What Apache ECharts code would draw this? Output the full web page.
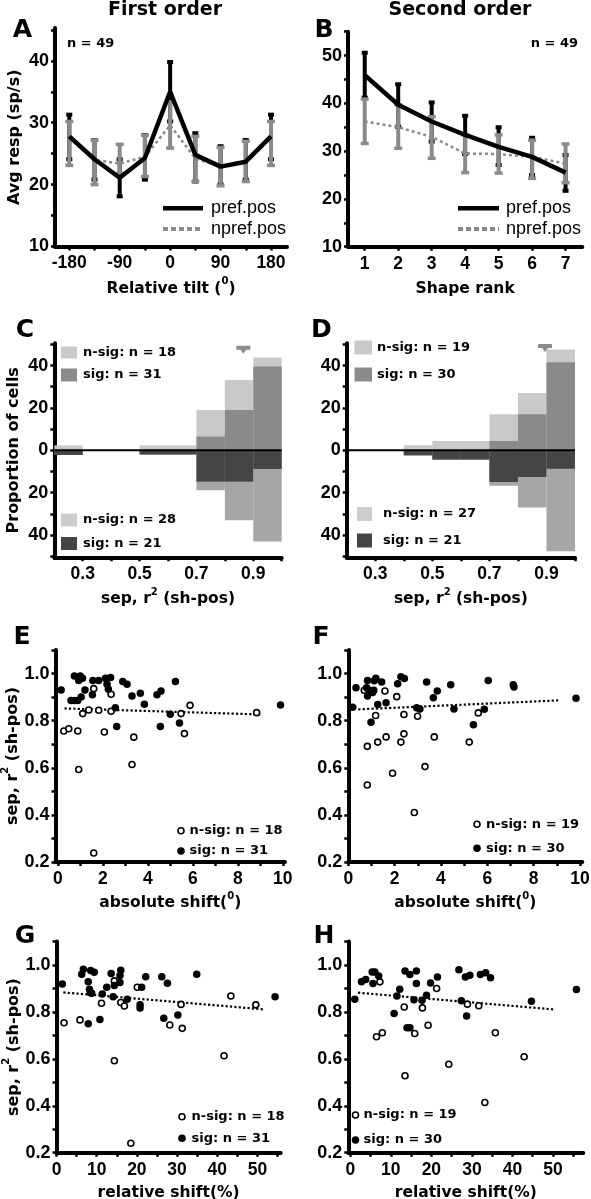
<!DOCTYPE html>
<html><head><meta charset="utf-8">
<script src="https://cdn.jsdelivr.net/npm/echarts@6/dist/echarts.min.js"></script>
<style>html,body{margin:0;padding:0;background:#fff}#c{width:591px;height:1199px}</style>
</head><body><div id="c"></div>
<script>
// ---------- Panel A: first order ----------
const tiltX = [-180, -135, -90, -45, 0, 45, 90, 135, 180];
const prefA = [27.8, 24.1, 21.1, 24.3, 35.0, 24.8, 22.9, 23.7, 27.8];
const prefALow = [24.1, 20.8, 18.1, 20.8, 30.2, 20.5, 20.0, 20.8, 24.1];
const prefAHigh = [31.3, 27.2, 24.1, 28.0, 39.8, 28.3, 26.2, 27.2, 31.3];
const nprefA = [27.5, 24.0, 23.4, 24.5, 29.6, 24.2, 22.9, 23.7, 27.5];
const nprefALow = [23.1, 20.0, 21.8, 21.3, 25.9, 20.5, 19.8, 20.5, 23.1];
const nprefAHigh = [30.2, 27.2, 26.5, 28.0, 33.4, 27.8, 26.0, 27.0, 30.2];
// ---------- Panel B: second order ----------
const rankX = [1, 2, 3, 4, 5, 6, 7];
const prefB = [45.9, 39.7, 36.2, 33.4, 30.9, 28.8, 25.5];
const prefBLow = [41.2, 35.1, 32.0, 29.4, 27.1, 25.0, 21.7];
const prefBHigh = [50.6, 44.0, 40.2, 37.4, 35.0, 32.8, 29.2];
const nprefB = [36.2, 35.0, 33.0, 29.5, 29.4, 28.8, 27.4];
const nprefBLow = [31.6, 30.6, 28.5, 25.5, 25.4, 24.3, 23.4];
const nprefBHigh = [40.9, 39.7, 37.2, 33.4, 33.4, 32.3, 31.5];
// ---------- Panels C, D: histograms (percent of cells, bins of 0.1) ----------
const binStarts = [0.2, 0.3, 0.4, 0.5, 0.6, 0.7, 0.8, 0.9];
const binWidth = 0.1;
const cUpSig = [0, 0, 0, 0, 0, 6.5, 19.0, 39.5];
const cUpNsig = [2.3, 0, 0, 2.3, 2.3, 12.5, 14.2, 4.3];
const cLoSig = [2.2, 0, 0, 2.0, 2.0, 14.8, 14.8, 8.8];
const cLoNsig = [0, 0, 0, 0, 0, 4.1, 18.2, 34.3];
const dUpSig = [0, 0, 0, 0, 0, 4.4, 17.0, 41.6];
const dUpNsig = [0, 0, 2.4, 4.4, 4.4, 12.6, 10.0, 6.0];
const dLoSig = [0, 0, 2.4, 4.4, 4.4, 15.0, 12.6, 8.7];
const dLoNsig = [0, 0, 0, 0, 0, 1.7, 14.4, 38.9];
const cMean = [[0.865, 47.5]];
const dMean = [[0.895, 48.3]];
// ---------- Panel E ----------
const eSig = [[0.15,0.93],[0.74,0.99],[0.59,0.886],[0.74,0.886],[0.89,0.886],[0.93,0.97],[1.0,0.99],[1.1,0.98],[1.04,0.90],[1.21,0.93],[1.56,0.97],[1.54,0.91],[1.82,0.97],[2.12,0.98],[2.19,0.955],[2.25,0.933],[2.35,0.983],[2.62,0.775],[2.89,0.966],[3.08,0.955],[2.56,0.855],[3.3,0.905],[3.67,0.916],[3.85,0.87],[4.41,0.91],[4.59,0.926],[4.56,0.775],[5.0,0.827],[5.23,0.966],[5.41,0.79],[9.9,0.867]];
const eNsig = [[0.27,0.756],[0.49,0.766],[0.89,0.756],[0.93,0.593],[1.11,0.83],[1.38,0.845],[1.6,0.936],[1.82,0.844],[1.6,0.238],[2.07,0.752],[2.37,0.912],[2.37,0.84],[3.38,0.73],[3.3,0.614],[5.48,0.83],[5.63,0.745],[5.88,0.865],[8.84,0.834]];
const eTrend = [[0.3,0.852],[9.1,0.826]];
// ---------- Panel F ----------
const fSig = [[0.19,0.857],[0.33,0.94],[0.79,0.94],[0.83,0.97],[0.83,0.905],[0.89,0.93],[0.98,0.793],[1.1,0.929],[1.12,0.969],[1.19,0.98],[1.27,0.869],[1.44,0.964],[1.63,0.876],[2.13,0.957],[2.27,0.986],[2.42,0.979],[2.95,0.855],[3.09,0.85],[3.38,0.964],[3.67,0.897],[3.84,0.926],[4.42,0.952],[4.56,0.85],[5.4,0.783],[5.87,0.848],[6.04,0.97],[7.12,0.952],[7.15,0.943],[9.83,0.895],[1.05,0.92]];
const fNsig = [[0.69,0.929],[0.82,0.691],[0.82,0.527],[1.18,0.822],[1.27,0.709],[1.58,0.926],[1.63,0.731],[1.91,0.577],[2.09,0.902],[2.27,0.709],[2.4,0.826],[2.4,0.744],[2.85,0.41],[2.99,0.819],[3.31,0.605],[3.71,0.731],[5.22,0.709],[5.61,0.833]];
const fTrend = [[0.43,0.848],[9.06,0.886]];
// ---------- Panel G ----------
const gSig = [[1.45,0.919],[6.27,0.96],[6.68,0.982],[7.9,0.929],[8.2,0.896],[8.75,0.879],[8.4,0.882],[8.5,0.976],[9.4,0.969],[7.9,0.749],[10.8,0.768],[11.4,0.876],[12.5,0.905],[13.6,0.964],[14.4,0.912],[14.1,0.865],[15.8,0.955],[16.0,0.977],[15.8,0.925],[17.6,0.854],[21.2,0.905],[20.8,0.83],[20.8,0.817],[22.2,0.95],[26.2,0.95],[26.7,0.773],[27.6,0.922],[30.2,0.787],[34.9,0.96],[54.4,0.865]];
const gNsig = [[1.87,0.754],[5.85,0.766],[11.2,0.837],[14.4,0.932],[14.4,0.592],[16.0,0.84],[16.9,0.825],[20.1,0.905],[18.5,0.24],[28.2,0.744],[31.0,0.832],[31.3,0.73],[41.7,0.613],[43.4,0.868],[49.6,0.83]];
const gTrend = [[1.7,0.883],[51.4,0.811]];
// ---------- Panel H ----------
const hSig = [[1.1,0.854],[2.75,0.928],[3.8,0.938],[5.4,0.97],[6.05,0.97],[5.6,0.921],[7.0,0.953],[10.8,0.793],[11.5,0.868],[12.2,0.896],[13.5,0.974],[14.0,0.732],[14.7,0.732],[14.7,0.959],[15.7,0.852],[16.3,0.974],[16.3,0.921],[17.7,0.85],[18.8,0.871],[19.8,0.923],[21.5,0.949],[26.8,0.98],[27.4,0.847],[28.4,0.949],[29.5,0.956],[28.7,0.782],[32.1,0.959],[33.4,0.967],[34.6,0.946],[44.7,0.845],[55.8,0.895]];
const hNsig = [[6.46,0.694],[7.9,0.711],[7.3,0.928],[13.3,0.821],[13.5,0.528],[17.8,0.817],[15.9,0.708],[19.2,0.743],[21.3,0.9],[24.3,0.577],[28.9,0.833],[31.7,0.826],[33.2,0.414],[35.8,0.711],[42.9,0.609]];
const hTrend = [[1.9,0.882],[50.5,0.81]];
// ---------- tick values ----------
const aXTicks = [-180,-135,-90,-45,0,45,90,135,180], aXLabels = [-180,-90,0,90,180];
const aYTicks = [10,15,20,25,30,35,40,45], aYLabels = [10,20,30,40];
const bXTicks = [1,2,3,4,5,6,7];
const bYTicks = [10,15,20,25,30,35,40,45,50,55], bYLabels = [10,20,30,40,50];
const hiXTicks = [0.3,0.4,0.5,0.6,0.7,0.8,0.9,1.0], hiXLabels = [0.3,0.5,0.7,0.9];
const hiYTicks = [-50,-40,-30,-20,-10,0,10,20,30,40,50], hiYLabels = [-40,-20,0,20,40];
const scYTicks = [0.2,0.3,0.4,0.5,0.6,0.7,0.8,0.9,1.0,1.1], scYLabels = [0.2,0.4,0.6,0.8,1.0];
const absXTicks = [0,1,2,3,4,5,6,7,8,9,10], absXLabels = [0,2,4,6,8,10];
const relXTicks = [0,5,10,15,20,25,30,35,40,45,50,55], relXLabels = [0,10,20,30,40,50];

const TICKF = 'Liberation Sans, Arial, sans-serif';
const TXTF = 'DejaVu Sans, sans-serif';
const GRAY = '#8a8a8a';
const RICH = {
  a: {fontFamily: TXTF, fontWeight: 'bold', fontSize: 15.5, color: '#000', lineHeight: 20, verticalAlign: 'bottom'},
  s: {fontFamily: TXTF, fontWeight: 'bold', fontSize: 10, color: '#000', lineHeight: 12, verticalAlign: 'top'}
};

function xAx(gi, min, max, ticks, labels, name, gap, fmt) {
  return {type: 'value', gridIndex: gi, min, max,
    axisLine: {show: true, onZero: false, lineStyle: {color: '#000', width: 4}},
    axisTick: {show: true, customValues: ticks, length: 4, lineStyle: {color: '#000', width: 2.5}},
    axisLabel: {customValues: labels, formatter: fmt, color: '#000', fontFamily: TICKF, fontWeight: 'bold', fontSize: 17.5, margin: 8},
    splitLine: {show: false}, name, nameLocation: 'middle', nameGap: gap, nameTextStyle: {rich: RICH}};
}
function yAx(gi, min, max, ticks, labels, name, gap, fmt) {
  return {type: 'value', gridIndex: gi, min, max,
    axisLine: {show: true, onZero: false, lineStyle: {color: '#000', width: 4}},
    axisTick: {show: true, customValues: ticks, length: 4, lineStyle: {color: '#000', width: 2.5}},
    axisLabel: {customValues: labels, formatter: fmt, color: '#000', fontFamily: TICKF, fontWeight: 'bold', fontSize: 18, margin: 6},
    splitLine: {show: false}, name, nameLocation: 'middle', nameGap: gap, nameRotate: 90,
    nameTextStyle: {rich: {a: Object.assign({}, RICH.a, {fontSize: 16}), s: RICH.s}}};
}
const f1 = v => Number(v).toFixed(1);
const fAbs = v => String(Math.abs(v));

function errRender(color, capW, capH, lw) {
  return function (params, api) {
    const x = api.value(0), lo = api.value(1), hi = api.value(2);
    const a = api.coord([x, lo]), b = api.coord([x, hi]);
    return {type: 'group', children: [
      {type: 'line', shape: {x1: a[0], y1: a[1], x2: b[0], y2: b[1]}, style: {stroke: color, lineWidth: lw}},
      {type: 'rect', shape: {x: a[0] - capW / 2, y: a[1] - capH / 2, width: capW, height: capH}, style: {fill: color}},
      {type: 'rect', shape: {x: b[0] - capW / 2, y: b[1] - capH / 2, width: capW, height: capH}, style: {fill: color}}
    ]};
  };
}
function histRender(color) {
  return function (params, api) {
    const a = api.coord([api.value(0), api.value(2)]), b = api.coord([api.value(1), api.value(3)]);
    return {type: 'rect', shape: {x: Math.min(a[0], b[0]), y: Math.min(a[1], b[1]), width: Math.abs(b[0] - a[0]), height: Math.abs(b[1] - a[1])}, style: {fill: color}};
  };
}
function errData(xs, lo, hi) { return xs.map((x, i) => [x, lo[i], hi[i]]); }
function lineData(xs, ys) { return xs.map((x, i) => [x, ys[i]]); }
function histData(upper, sig, nsig) {
  const tot = [], s = [];
  binStarts.forEach((b, i) => {
    const sgn = upper ? 1 : -1;
    if (sig[i] + nsig[i] > 0) tot.push([b, b + binWidth, 0, sgn * (sig[i] + nsig[i])]);
    if (sig[i] > 0) s.push([b, b + binWidth, 0, sgn * sig[i]]);
  });
  return {tot, s};
}

const series = [];
function addErrPanel(gi, xs, pref, pLo, pHi, npref, nLo, nHi) {
  series.push({type: 'custom', xAxisIndex: gi, yAxisIndex: gi, renderItem: errRender('#000', 6, 4, 4), data: errData(xs, pLo, pHi), encode: {x: 0, y: [1, 2]}, z: 2});
  series.push({type: 'custom', xAxisIndex: gi, yAxisIndex: gi, renderItem: errRender(GRAY, 8, 3.5, 4), data: errData(xs, nLo, nHi), encode: {x: 0, y: [1, 2]}, z: 3});
  series.push({type: 'line', xAxisIndex: gi, yAxisIndex: gi, data: lineData(xs, npref), symbol: 'none', lineStyle: {color: GRAY, width: 2.5, type: [3, 3]}, z: 4});
  series.push({type: 'line', xAxisIndex: gi, yAxisIndex: gi, data: lineData(xs, pref), symbol: 'none', lineStyle: {color: '#000', width: 4.5}, z: 5});
}
addErrPanel(0, tiltX, prefA, prefALow, prefAHigh, nprefA, nprefALow, nprefAHigh);
addErrPanel(1, rankX, prefB, prefBLow, prefBHigh, nprefB, nprefBLow, nprefBHigh);

const ARROW = 'path://M0,0 L12,0 L12,3.5 L8.5,3.5 L6,7 L3.5,3.5 L0,3.5 Z';
function addHist(gi, upS, upN, loS, loN, mean) {
  const up = histData(true, upS, upN), lo = histData(false, loS, loN);
  series.push({type: 'custom', xAxisIndex: gi, yAxisIndex: gi, renderItem: histRender('#c9c9c9'), data: up.tot, encode: {x: [0, 1], y: [2, 3]}, z: 2});
  series.push({type: 'custom', xAxisIndex: gi, yAxisIndex: gi, renderItem: histRender('#8a8a8a'), data: up.s, encode: {x: [0, 1], y: [2, 3]}, z: 3});
  series.push({type: 'custom', xAxisIndex: gi, yAxisIndex: gi, renderItem: histRender('#a6a6a6'), data: lo.tot, encode: {x: [0, 1], y: [2, 3]}, z: 2});
  series.push({type: 'custom', xAxisIndex: gi, yAxisIndex: gi, renderItem: histRender('#454545'), data: lo.s, encode: {x: [0, 1], y: [2, 3]}, z: 3});
  series.push({type: 'line', xAxisIndex: gi, yAxisIndex: gi, data: [[0.2, 0], [1.0, 0]], symbol: 'none', lineStyle: {color: '#000', width: 2}, z: 6});
  series.push({type: 'scatter', xAxisIndex: gi, yAxisIndex: gi, data: mean, symbol: ARROW, symbolSize: [14, 8], itemStyle: {color: '#8c8c8c', opacity: 1}, z: 6});
}
addHist(2, cUpSig, cUpNsig, cLoSig, cLoNsig, cMean);
addHist(3, dUpSig, dUpNsig, dLoSig, dLoNsig, dMean);

function addScatter(gi, sig, nsig, trend) {
  series.push({type: 'line', xAxisIndex: gi, yAxisIndex: gi, data: trend, symbol: 'none', lineStyle: {color: '#000', width: 2.2, type: [2.2, 2.2]}, z: 2});
  series.push({type: 'scatter', xAxisIndex: gi, yAxisIndex: gi, data: nsig, symbol: 'circle', symbolSize: 6, itemStyle: {color: '#fff', borderColor: '#000', borderWidth: 1.6, opacity: 1}, z: 3});
  series.push({type: 'scatter', xAxisIndex: gi, yAxisIndex: gi, data: sig, symbol: 'circle', symbolSize: 7.5, itemStyle: {color: '#000', opacity: 1}, z: 4});
}
addScatter(4, eSig, eNsig, eTrend);
addScatter(5, fSig, fNsig, fTrend);
addScatter(6, gSig, gNsig, gTrend);
addScatter(7, hSig, hNsig, hTrend);

const SEP = '{a|sep, r}{s|2}{a| (sh-pos)}';
const grids = [
  {left: 55, top: 28, width: 232, height: 218.5},
  {left: 348, top: 31.7, width: 234.3, height: 215},
  {left: 54.3, top: 343.3, width: 227.4, height: 214},
  {left: 346.7, top: 343.3, width: 228.3, height: 214},
  {left: 55.5, top: 650, width: 229.5, height: 212},
  {left: 348.3, top: 650, width: 234, height: 212},
  {left: 56.5, top: 941.5, width: 224.2, height: 211.2},
  {left: 348.3, top: 941.5, width: 235, height: 211.2}
].map(g => Object.assign(g, {outerBoundsMode: 'none', containLabel: false}));

const xAxes = [
  xAx(0, -205.5, 208.6, aXTicks, aXLabels, '{a|Relative tilt (}{s|0}{a|)}', 30),
  xAx(1, 0.5, 7.5, bXTicks, bXTicks, '{a|Shape rank}', 30),
  xAx(2, 0.2, 1.0, hiXTicks, hiXLabels, SEP, 30, f1),
  xAx(3, 0.2, 1.0, hiXTicks, hiXLabels, SEP, 30, f1),
  xAx(4, -0.1, 10.1, absXTicks, absXLabels, '{a|absolute shift(}{s|0}{a|)}', 29),
  xAx(5, 0, 10.1, absXTicks, absXLabels, '{a|absolute shift(}{s|0}{a|)}', 29),
  xAx(6, 0, 55.8, relXTicks, relXLabels, '{a|relative shift(%)}', 28),
  xAx(7, -0.5, 57.5, relXTicks, relXLabels, '{a|relative shift(%)}', 28)
];
const yAxes = [
  yAx(0, 10, 45.3, aYTicks, aYLabels, '{a|Avg resp (sp/s)}', 32),
  yAx(1, 10, 55, bYTicks, bYLabels, '', 30),
  yAx(2, -50.5, 50.5, hiYTicks, hiYLabels, '{a|Proportion of cells}', 32, fAbs),
  yAx(3, -50.5, 50.5, hiYTicks, hiYLabels, '', 30, fAbs),
  yAx(4, 0.2, 1.1, scYTicks, scYLabels, SEP, 34, f1),
  yAx(5, 0.2, 1.1, scYTicks, scYLabels, '', 30, f1),
  yAx(6, 0.2, 1.1, scYTicks, scYLabels, SEP, 34, f1),
  yAx(7, 0.2, 1.1, scYTicks, scYLabels, '', 30, f1)
];

function T(text, x, y, font, align, extra) {
  return Object.assign({type: 'text', style: {text, x, y, font, fill: '#000', textAlign: align || 'left', textVerticalAlign: 'middle'}, z: 10}, extra || {});
}
function R(x, y, w, h, fill) { return {type: 'rect', shape: {x, y, width: w, height: h}, style: {fill}, z: 10}; }
const BL = 'bold 25px DejaVu Sans';
const BT = 'bold 19px DejaVu Sans';
const LG = 'bold 13px DejaVu Sans';
const LN = '18px Liberation Sans';
const graphic = [
  T('First order', 165, 10.5, BT, 'center'),
  T('Second order', 460, 10.5, BT, 'center'),
  T('A', 22.5, 30, BL, 'center'), T('B', 324, 30, BL, 'center'),
  T('C', 25, 330, BL, 'center'), T('D', 321.5, 330, BL, 'center'),
  T('E', 22, 637, BL, 'center'), T('F', 321, 637, BL, 'center'),
  T('G', 25, 936, BL, 'center'), T('H', 324, 936, BL, 'center'),
  T('n = 49', 67, 43.3, LG, 'left'), T('n = 49', 578, 43.3, LG, 'right'),
  // A/B legends
  {type: 'line', shape: {x1: 163, y1: 208.3, x2: 203, y2: 208.3}, style: {stroke: '#000', lineWidth: 4.5}, z: 10},
  {type: 'line', shape: {x1: 163, y1: 229, x2: 203, y2: 229}, style: {stroke: GRAY, lineWidth: 4, lineDash: [5, 3]}, z: 10},
  T('pref.pos', 211, 208.3, LN), T('npref.pos', 211, 229, LN),
  {type: 'line', shape: {x1: 458, y1: 208.3, x2: 499, y2: 208.3}, style: {stroke: '#000', lineWidth: 4.5}, z: 10},
  {type: 'line', shape: {x1: 458, y1: 229, x2: 499, y2: 229}, style: {stroke: GRAY, lineWidth: 4, lineDash: [5, 3]}, z: 10},
  T('pref.pos', 506, 208.3, LN), T('npref.pos', 506, 229, LN),
  // C legends
  R(61, 346.5, 16, 12, '#c9c9c9'), T('n-sig: n = 18', 83, 352.5, LG),
  R(61, 368.5, 16, 13, '#8a8a8a'), T('sig: n = 31', 83, 375, LG),
  R(61, 513.5, 16, 13, '#cdcdcd'), T('n-sig: n = 28', 83, 520, LG),
  R(61, 537, 16, 13, '#454545'), T('sig: n = 21', 83, 543.5, LG),
  // D legends
  R(354.5, 340.5, 17.5, 14, '#c9c9c9'), T('n-sig: n = 19', 377, 347.5, LG),
  R(354.5, 367.5, 17.5, 14, '#8a8a8a'), T('sig: n = 30', 377, 374.5, LG),
  R(357, 507, 15, 14, '#cdcdcd'), T('n-sig: n = 27', 383, 514, LG),
  R(357, 533.5, 15, 14, '#454545'), T('sig: n = 21', 383, 540.5, LG),
  // E-H legends
  {type: 'circle', shape: {cx: 181, cy: 830.7, r: 3}, style: {fill: '#fff', stroke: '#000', lineWidth: 1.6}, z: 10},
  T('n-sig: n = 18', 189.5, 830.7, LG),
  {type: 'circle', shape: {cx: 181, cy: 851, r: 3.8}, style: {fill: '#000'}, z: 10},
  T('sig: n = 31', 189.5, 851, LG),
  {type: 'circle', shape: {cx: 477, cy: 824.3, r: 3}, style: {fill: '#fff', stroke: '#000', lineWidth: 1.6}, z: 10},
  T('n-sig: n = 19', 486, 824.3, LG),
  {type: 'circle', shape: {cx: 477, cy: 848.3, r: 3.8}, style: {fill: '#000'}, z: 10},
  T('sig: n = 30', 486, 848.3, LG),
  {type: 'circle', shape: {cx: 182, cy: 1116.7, r: 3}, style: {fill: '#fff', stroke: '#000', lineWidth: 1.6}, z: 10},
  T('n-sig: n = 18', 191.5, 1116.7, LG),
  {type: 'circle', shape: {cx: 182, cy: 1138.3, r: 3.8}, style: {fill: '#000'}, z: 10},
  T('sig: n = 31', 191.5, 1138.3, LG),
  {type: 'circle', shape: {cx: 355.5, cy: 1115, r: 3}, style: {fill: '#fff', stroke: '#000', lineWidth: 1.6}, z: 10},
  T('n-sig: n = 19', 363.5, 1115, LG),
  {type: 'circle', shape: {cx: 355.5, cy: 1140, r: 3.8}, style: {fill: '#000'}, z: 10},
  T('sig: n = 30', 363.5, 1140, LG)
];

const chart = echarts.init(document.getElementById('c'), null, {renderer: 'canvas'});
chart.setOption({
  animation: false,
  backgroundColor: '#fff',
  grid: grids,
  xAxis: xAxes,
  yAxis: yAxes,
  series,
  graphic
});
</script></body></html>
